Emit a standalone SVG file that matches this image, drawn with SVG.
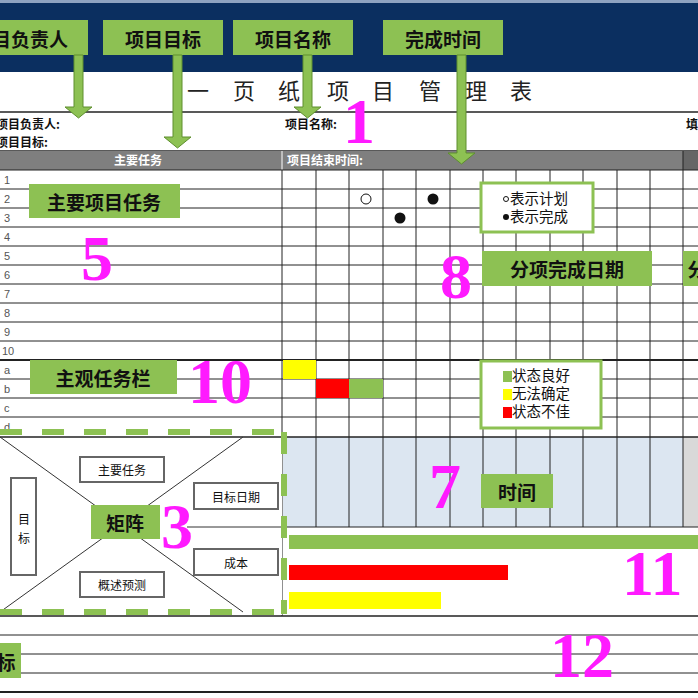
<svg xmlns="http://www.w3.org/2000/svg" width="698" height="698" viewBox="0 0 698 698">
<style>
.lbl{fill:#8dc153}
.lt{font-family:"Noto Sans CJK SC",sans-serif;font-weight:bold;font-size:19px;fill:#111;text-anchor:middle;dominant-baseline:central}
.num{font-family:"Liberation Serif",serif;font-weight:bold;font-size:64px;fill:#ff1aff}
.sm{font-family:"Noto Sans CJK SC",sans-serif;font-size:12px;fill:#111}
.rn{font-family:"Liberation Sans",sans-serif;font-size:11px;fill:#555}
.grid{stroke:#222;stroke-width:1}
.box{fill:#fff;stroke:#666;stroke-width:2}
.bt{font-family:"Noto Sans CJK SC",sans-serif;font-size:12px;fill:#111;text-anchor:middle;dominant-baseline:central}
.lg{font-family:"Noto Sans CJK SC",sans-serif;font-size:14.5px;fill:#111}
.arr{fill:#8dc153;stroke:#5e8f2e;stroke-width:1}
</style>
<rect width="698" height="698" fill="#fff"/>
<rect width="698" height="72" fill="#0b2f60"/>
<rect width="698" height="3" fill="#8fa3c0"/>
<g font-family="Noto Sans CJK SC,serif" font-size="22" fill="#222" text-anchor="middle">
<text x="198" y="99">一</text><text x="244" y="99">页</text><text x="289" y="99">纸</text><text x="338" y="99">项</text><text x="383" y="99">目</text><text x="430" y="99">管</text><text x="476" y="99">理</text><text x="521" y="99">表</text>
</g>
<line x1="0" y1="112" x2="698" y2="112" stroke="#222" stroke-width="1.5"/>
<text class="sm" x="-4" y="129" font-weight="bold">项目负责人:</text>
<text class="sm" x="-4" y="147" font-weight="bold">项目目标:</text>
<text class="sm" x="285" y="129" font-weight="bold">项目名称:</text>
<text class="sm" x="686" y="129" font-weight="bold">填</text>
<line x1="0" y1="151" x2="698" y2="151" stroke="#222" stroke-width="1.5"/>
<rect x="0" y="151" width="698" height="19" fill="#7f7f7f"/>
<rect x="683" y="151" width="15" height="19" fill="#666"/>
<text class="sm" x="138" y="165" text-anchor="middle" font-weight="bold" style="fill:#fff">主要任务</text>
<text class="sm" x="287" y="165" style="fill:#fff" font-weight="bold">项目结束时间:</text>
<line x1="282" y1="151" x2="282" y2="170" stroke="#fff"/>
<rect x="283" y="437" width="400" height="90" fill="#dce6f1"/>
<rect x="683" y="437" width="15" height="90" fill="#d9d9d9"/>
<g class="grid">
<line x1="0" y1="170" x2="698" y2="170"/><line x1="0" y1="189" x2="698" y2="189"/><line x1="0" y1="208" x2="698" y2="208"/><line x1="0" y1="227" x2="698" y2="227"/><line x1="0" y1="246" x2="698" y2="246"/><line x1="0" y1="265" x2="698" y2="265"/><line x1="0" y1="284" x2="698" y2="284"/><line x1="0" y1="303" x2="698" y2="303"/><line x1="0" y1="322" x2="698" y2="322"/><line x1="0" y1="341" x2="698" y2="341"/><line x1="0" y1="360" x2="698" y2="360" stroke-width="2"/><line x1="0" y1="379" x2="698" y2="379"/><line x1="0" y1="398" x2="698" y2="398"/><line x1="0" y1="417" x2="698" y2="417"/><line x1="0" y1="437" x2="698" y2="437" stroke-width="1.5"/>
<line x1="187" y1="527" x2="698" y2="527"/>
<line x1="0" y1="616" x2="698" y2="616" stroke-width="1.5"/><line x1="0" y1="635" x2="698" y2="635"/><line x1="0" y1="654" x2="698" y2="654"/><line x1="0" y1="673" x2="698" y2="673"/><line x1="0" y1="692" x2="698" y2="692" stroke-width="2"/>
<line x1="282" y1="170" x2="282" y2="616"/>
<line x1="316" y1="170" x2="316" y2="527"/><line x1="349" y1="170" x2="349" y2="527"/><line x1="383" y1="170" x2="383" y2="527"/><line x1="416" y1="170" x2="416" y2="527"/><line x1="450" y1="170" x2="450" y2="527"/><line x1="483" y1="170" x2="483" y2="527"/><line x1="516" y1="170" x2="516" y2="527"/><line x1="550" y1="170" x2="550" y2="527"/><line x1="583" y1="170" x2="583" y2="527"/><line x1="617" y1="170" x2="617" y2="527"/><line x1="650" y1="170" x2="650" y2="527"/><line x1="683" y1="151" x2="683" y2="527"/>
</g>
<g class="rn">
<text x="4" y="184">1</text><text x="4" y="203">2</text><text x="4" y="222">3</text><text x="4" y="241">4</text><text x="4" y="260">5</text><text x="4" y="279">6</text><text x="4" y="298">7</text><text x="4" y="317">8</text><text x="4" y="336">9</text><text x="2" y="355">10</text><text x="4" y="374">a</text><text x="4" y="393">b</text><text x="4" y="412">c</text><text x="4" y="431">d</text>
</g>
<rect x="283" y="360" width="33" height="19" fill="#ffff00"/>
<rect x="316" y="379" width="33" height="19" fill="#ff0000"/>
<rect x="349" y="379" width="34" height="19" fill="#8dc153"/>
<circle cx="366" cy="199" r="5" fill="#fff" stroke="#111"/>
<circle cx="433" cy="199" r="5.5" fill="#111"/>
<circle cx="400" cy="218" r="5.5" fill="#111"/>
<g id="matrix">
<rect x="0" y="438" width="282" height="177" fill="#fff"/>
<line x1="0" y1="437" x2="243" y2="612" stroke="#333"/>
<line x1="243" y1="437" x2="0" y2="612" stroke="#333"/>
<line x1="187" y1="527" x2="282" y2="527" stroke="#333"/>
<rect class="box" x="80" y="457" width="84" height="25"/><text class="bt" x="122" y="469">主要任务</text>
<rect class="box" x="194" y="483" width="84" height="26"/><text class="bt" x="236" y="496">目标日期</text>
<rect class="box" x="194" y="549" width="84" height="26"/><text class="bt" x="236" y="562">成本</text>
<rect class="box" x="80" y="572" width="84" height="25"/><text class="bt" x="122" y="584">概述预测</text>
<rect class="box" x="11" y="478" width="25" height="97"/><text class="bt" x="24" y="518">目</text><text class="bt" x="24" y="537">标</text>
<rect class="lbl" x="91" y="505" width="69" height="34"/><text class="lt" x="125" y="522">矩阵</text>
</g>
<g fill="none" stroke="#8dc153" stroke-width="6" stroke-dasharray="22 20">
<line x1="0" y1="432" x2="285" y2="432"/>
<line x1="0" y1="612" x2="285" y2="612"/>
<line x1="284" y1="432" x2="284" y2="614"/>
</g>
<rect x="289" y="535" width="409" height="14" fill="#8dc153"/>
<rect x="289" y="565" width="219" height="15" fill="#ff0000"/>
<rect x="289" y="592" width="152" height="17" fill="#ffff00"/>
<g id="legend1"><rect x="481" y="183" width="112" height="49" fill="#fff" stroke="#8dc153" stroke-width="3"/>
<circle cx="506" cy="199" r="2.5" fill="#fff" stroke="#111"/><circle cx="506" cy="217" r="3" fill="#111"/>
<text class="lg" x="510" y="204">表示计划</text><text class="lg" x="510" y="222">表示完成</text></g>
<g id="legend2"><rect x="481" y="361" width="120" height="67" fill="#fff" stroke="#8dc153" stroke-width="3"/>
<rect x="503" y="371" width="9" height="11" fill="#8dc153"/><rect x="503" y="389" width="9" height="11" fill="#ffff00"/><rect x="503" y="407" width="9" height="11" fill="#ff0000"/>
<text class="lg" x="512" y="381">状态良好</text><text class="lg" x="512" y="399">无法确定</text><text class="lg" x="512" y="417">状态不佳</text></g>
<g id="l1"><rect class="lbl" x="0" y="20" width="88" height="35"/><text class="lt" x="30" y="38">目负责人</text></g>
<g id="l2"><rect class="lbl" x="103" y="20" width="120" height="35"/><text class="lt" x="163" y="38">项目目标</text></g>
<g id="l3"><rect class="lbl" x="233" y="20" width="120" height="35"/><text class="lt" x="293" y="38">项目名称</text></g>
<g id="l4"><rect class="lbl" x="383" y="20" width="120" height="35"/><text class="lt" x="443" y="38">完成时间</text></g>
<g id="l5"><rect class="lbl" x="29" y="184" width="151" height="34"/><text class="lt" x="104" y="201">主要项目任务</text></g>
<g id="l8"><rect class="lbl" x="482" y="251" width="170" height="35"/><text class="lt" x="567" y="268">分项完成日期</text></g>
<g id="l8b"><rect class="lbl" x="683" y="251" width="20" height="35"/><text class="lt" x="697" y="268">分</text></g>
<g id="l10"><rect class="lbl" x="30" y="360" width="147" height="34"/><text class="lt" x="103" y="377">主观任务栏</text></g>
<g id="l7"><rect class="lbl" x="481" y="474" width="72" height="34"/><text class="lt" x="517" y="491">时间</text></g>
<g id="l12"><rect class="lbl" x="0" y="643" width="21" height="35"/><text class="lt" x="6" y="661">标</text></g>
<g id="connectors">
<path class="arr" d="M74 55h9v52h9l-13.5 11-13.5-11h9z"/>
<path class="arr" d="M173 55h9v82h9l-13.5 11-13.5-11h9z"/>
<path class="arr" d="M303 55h9v52h9l-13.5 11-13.5-11h9z"/>
<path class="arr" d="M457 55h9v98h9l-13.5 11-13.5-11h9z"/>
</g>
<text class="num" x="343" y="143">1</text>
<text class="num" x="81" y="280">5</text>
<text class="num" x="440" y="298">8</text>
<text class="num" x="188" y="403">10</text>
<text class="num" x="429" y="508">7</text>
<text class="num" x="161" y="548">3</text>
<text class="num" x="622" y="595">11</text>
<text class="num" x="550" y="677">12</text>
</svg>
